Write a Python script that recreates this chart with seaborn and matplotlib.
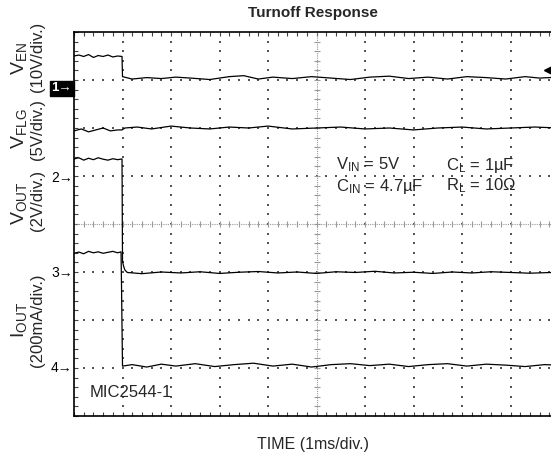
import numpy as np
import matplotlib
matplotlib.use("Agg")
import matplotlib.pyplot as plt
import seaborn as sns

# scope traces, time in ms, values in channel units
ven_t = [0, 0.1, 0.2, 0.3, 0.4, 0.5, 0.6, 0.7, 0.8, 0.9, 0.99, 1.0, 1.2, 1.5, 1.8, 2.1, 2.4, 2.8, 3.2, 3.5,
         3.8, 4.1, 4.5, 4.9, 5.3, 5.7, 6.1, 6.5, 6.9, 7.3, 7.7, 8.1, 8.5, 8.9, 9.3, 9.6, 10.0]
ven_v = [4.6, 4.8, 4.5, 4.9, 4.3, 4.7, 4.5, 4.8, 4.4, 4.6, 4.5, 0.3, -0.2, 0.1, -0.1, 0.2, 0.0, -0.3, 0.3, 0.5,
         -0.2, 0.2, -0.1, 0.3, 0.0, -0.3, 0.2, 0.4, -0.1, 0.2, -0.2, 0.3, 0.1, -0.2, 0.3, 0.0, 0.2]

vflg_t = [0, 0.15, 0.3, 0.45, 0.6, 0.75, 0.9, 0.99, 1.05, 1.3, 1.6, 2.0, 2.4, 2.8, 3.2, 3.6, 4.0, 4.5, 5.0,
          5.5, 6.0, 6.5, 7.0, 7.5, 8.0, 8.5, 9.0, 9.5, 10.0]
vflg_v = [4.9, 5.1, 4.8, 5.0, 5.2, 4.9, 5.0, 5.0, 5.2, 5.3, 5.1, 5.4, 5.2, 5.1, 5.3, 5.2, 5.4, 5.1, 5.2,
          5.3, 5.1, 5.2, 5.0, 5.2, 5.3, 5.1, 5.2, 5.3, 5.2]

vout_t = [0, 0.1, 0.2, 0.3, 0.4, 0.5, 0.6, 0.7, 0.8, 0.9, 0.99, 1.0, 1.02, 1.05, 1.1, 1.4, 1.8, 2.2, 2.6,
          3.0, 3.4, 3.8, 4.2, 4.6, 5.0, 5.4, 5.8, 6.2, 6.6, 7.0, 7.4, 7.8, 8.2, 8.6, 9.0, 9.4, 10.0]
vout_v = [4.75, 4.8, 4.7, 4.78, 4.72, 4.8, 4.74, 4.7, 4.76, 4.72, 4.75, 0.5, 0.3, 0.12, 0.02, -0.03, 0.04,
          0.0, 0.05, -0.02, 0.03, 0.06, 0.0, 0.04, -0.02, 0.05, 0.02, 0.07, 0.0, 0.03, -0.02, 0.04, 0.0,
          0.05, 0.02, -0.01, 0.03]

iout_t = [0, 0.1, 0.2, 0.3, 0.4, 0.5, 0.6, 0.7, 0.8, 0.9, 0.97, 0.98, 1.0, 1.2, 1.5, 1.8, 2.1, 2.5, 2.9,
          3.3, 3.7, 4.1, 4.5, 4.9, 5.3, 5.7, 6.1, 6.5, 6.9, 7.3, 7.7, 8.1, 8.5, 8.9, 9.3, 9.7, 10.0]
iout_v = [0.470, 0.475, 0.468, 0.478, 0.472, 0.476, 0.470, 0.474, 0.478, 0.472, 0.476, 0.33, 0.0, 0.006,
          -0.004, 0.008, 0.0, 0.01, -0.002, 0.006, 0.012, 0.0, 0.008, -0.004, 0.006, 0.01, 0.002, 0.008,
          -0.002, 0.006, 0.01, 0.0, 0.008, 0.004, -0.002, 0.006, 0.004]

# channel settings: units per division, ground position in divisions
ven_scale, ven_gnd = 10.0, 7.04
vflg_scale, vflg_gnd = 5.0, 4.96
vout_scale, vout_gnd = 2.0, 2.98
iout_scale, iout_gnd = 0.2, 1.04

marker_labels = ["1", "2", "3", "4"]
marker_div = [6.83, 4.96, 2.98, 1.0]

W, H = 551, 461
sns.set_theme(style="white")
plt.rcParams["font.family"] = ["Liberation Sans", "DejaVu Sans"]
plt.rcParams["mathtext.fontset"] = "custom"
plt.rcParams["mathtext.rm"] = "Liberation Sans"

fig = plt.figure(figsize=(W / 100, H / 100), dpi=100)
fig.patch.set_facecolor("white")
ax = fig.add_axes([74 / W, 45 / H, 485 / W, 384 / H])
ax.set_facecolor("white")
ax.set_xlim(0, 10)
ax.set_ylim(0, 8)

# graticule dots
minor = np.arange(0.2, 10, 0.2)
ys = minor[minor < 8]
for gx in [1, 2, 3, 4, 6, 7, 8, 9]:
    ax.scatter(np.full(len(ys), gx), ys, s=0.9, color="#555555", marker="s", linewidths=0, zorder=1)
for gy in [1, 2, 3, 5, 6, 7]:
    ax.scatter(minor, np.full(len(minor), gy), s=0.9, color="#555555", marker="s", linewidths=0, zorder=1)

# center cross with ticks
ax.axvline(5, color="#9a9a9a", lw=0.8, ls=(0, (1, 1)), zorder=1)
ax.axhline(4, color="#9a9a9a", lw=0.8, ls=(0, (1, 1)), zorder=1)
ax.plot(np.full(len(ys), 5), ys, ls="none", marker="_", ms=5, mew=0.8, color="#9a9a9a", zorder=1)
ax.plot(minor, np.full(len(minor), 4), ls="none", marker="|", ms=5, mew=0.8, color="#9a9a9a", zorder=1)

traces = [
    (ven_t, ven_v, ven_scale, ven_gnd),
    (vflg_t, vflg_v, vflg_scale, vflg_gnd),
    (vout_t, vout_v, vout_scale, vout_gnd),
    (iout_t, iout_v, iout_scale, iout_gnd),
]
for t, v, sc, g in traces:
    y = np.array(v) / sc + g
    sns.lineplot(x=t, y=y, ax=ax, color="black", linewidth=0.9, sort=False, estimator=None, zorder=3)

# trigger marker on right edge
ax.plot([9.77], [7.21], marker="<", ms=6, color="black", clip_on=False)

# border
for side in ["left", "top", "bottom"]:
    ax.spines[side].set_visible(True)
    ax.spines[side].set_color("black")
    ax.spines[side].set_linewidth(1.2)
ax.spines["right"].set_visible(False)
ax.set_xticks(np.arange(0, 11, 1))
ax.set_yticks(np.arange(0, 9, 1))
ax.set_xticks(minor, minor=True)
ax.set_yticks(ys, minor=True)
ax.tick_params(which="both", direction="in", length=3, width=0.8, color="#444444",
               top=True, bottom=True, left=True, right=False,
               labelbottom=False, labelleft=False)

# channel markers
for lab, d in zip(marker_labels, marker_div):
    if lab == "1":
        ax.annotate(lab + "\u2192", xy=(0, d), xycoords=("axes fraction", "data"),
                    xytext=(-1.5, 0), textcoords="offset points", ha="right", va="center",
                    fontsize=9.5, color="white", fontweight="bold",
                    bbox=dict(boxstyle="square,pad=0.12", fc="black", ec="black"))
    else:
        ax.annotate(lab + "\u2192", xy=(0, d), xycoords=("axes fraction", "data"),
                    xytext=(-1, 0), textcoords="offset points", ha="right", va="center",
                    fontsize=10, color="black")


def ftext(px, py, s, **kw):
    fig.text(px / W, 1 - py / H, s, **kw)


# axis labels on the left
ftext(19, 58, r"$\mathregular{V_{EN}}$", fontsize=14, rotation=90, ha="center", va="center")
ftext(37, 57, "(10V/div.)", fontsize=12, rotation=90, ha="center", va="center")
ftext(19, 129, r"$\mathregular{V_{FLG}}$", fontsize=14, rotation=90, ha="center", va="center")
ftext(37, 129, "(5V/div.)", fontsize=12, rotation=90, ha="center", va="center")
ftext(19, 203, r"$\mathregular{V_{OUT}}$", fontsize=14, rotation=90, ha="center", va="center")
ftext(37, 200, "(2V/div.)", fontsize=12, rotation=90, ha="center", va="center")
ftext(19, 320, r"$\mathregular{I_{OUT}}$", fontsize=14, rotation=90, ha="center", va="center")
ftext(37, 320, "(200mA/div.)", fontsize=12, rotation=90, ha="center", va="center")

# title and x label
ftext(313, 13, "Turnoff Response", fontsize=11, fontweight="bold", ha="center", va="center")
ftext(313, 444, "TIME (1ms/div.)", fontsize=11.5, ha="center", va="center")

# conditions
mu = "\u00b5"
ftext(336, 165, r"$\mathregular{V_{IN}}$ = 5V", fontsize=12, ha="left", va="center")
ftext(336, 186, r"$\mathregular{C_{IN}}$ = 4.7" + mu + "F", fontsize=12, ha="left", va="center")
ftext(446, 165, r"$\mathregular{C_L}$ = 1" + mu + "F", fontsize=12, ha="left", va="center")
ftext(446, 186, r"$\mathregular{R_L}$ = 10" + "\u03a9", fontsize=12, ha="left", va="center")
ftext(90, 392, "MIC2544-1", fontsize=12, ha="left", va="center")

fig.savefig("out.png", dpi=100, facecolor="white")
